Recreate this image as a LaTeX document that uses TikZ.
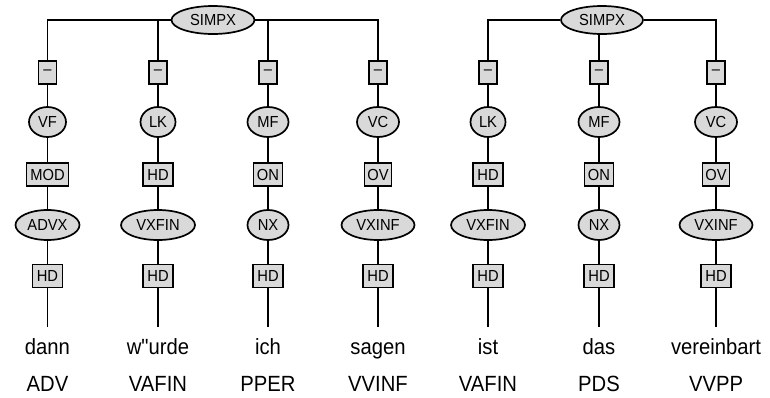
\documentclass[tikz,border=0pt]{standalone}
\usepackage{fontspec}
\setmainfont[FakeStretch=0.92,Ligatures=TeXOff]{Liberation Sans}
\usetikzlibrary{shapes.geometric}
\definecolor{nodefill}{RGB}{217,217,217}
\tikzset{
  edge/.style={draw=black,line width=1.7pt},
  ell/.style={ellipse,draw=black,line width=1.7pt,fill=nodefill,inner sep=0pt,minimum height=30pt,font=\fontsize{16}{16}\selectfont},
  lab/.style={rectangle,draw=black,line width=1.7pt,fill=nodefill,inner sep=0pt,minimum height=23pt,font=\fontsize{16}{16}\selectfont},
  wordlab/.style={anchor=base,inner xsep=0pt,inner ysep=11pt,text height=16pt,text depth=5pt,font=\fontsize{22}{22}\selectfont},
  postag/.style={anchor=base,inner sep=0pt,font=\fontsize{22}{22}\selectfont}
}
\begin{document}
\begin{tikzpicture}[x=1pt,y=-1pt]
\useasboundingbox (0,0) rectangle (770,397);
% roots
\node[ell,minimum width=83pt,minimum height=28pt] (s1) at (213,20) {SIMPX};
\node[ell,minimum width=82pt,minimum height=28pt] (s2) at (602,20) {SIMPX};
% columns
\foreach \i/\x/\ea/\wa/\lb/\wb/\ec/\wc/\w/\p in {
  1/47.5/VF/37/MOD/42/ADVX/64/dann/ADV,
  2/158/LK/35/HD/30/VXFIN/74/w"urde/VAFIN,
  3/268/MF/41/ON/29/NX/41/ich/PPER,
  4/378/VC/42/OV/27/VXINF/73/sagen/VVINF,
  5/488/LK/35/HD/30/VXFIN/74/ist/VAFIN,
  6/599/MF/41/ON/29/NX/41/das/PDS,
  7/716/VC/42/OV/27/VXINF/73/vereinbart/VVPP}{
  \node[lab,minimum width=18pt] (d\i) at (\x,72.5) {\textendash};
  \node[ell,minimum width=\wa pt] (a\i) at (\x,122) {\ea};
  \node[lab,minimum width=\wb pt] (b\i) at (\x,174.5) {\lb};
  \node[ell,minimum width=\wc pt] (c\i) at (\x,225) {\ec};
  \node[lab,minimum width=30pt] (h\i) at (\x,276) {HD};
  \node[wordlab] (w\i) at (\x,354) {\w};
  \node[postag] (p\i) at (\x,391.5) {\p};
  \draw[edge] (d\i) -- (a\i) -- (b\i) -- (c\i) -- (h\i) -- (w\i);
}
% root connections
\draw[edge] (s1.west) -| (d1);
\draw[edge] (s1.west) -| (d2);
\draw[edge] (s1.east) -| (d3);
\draw[edge] (s1.east) -| (d4);
\draw[edge] (s2.west) -| (d5);
\draw[edge] (s2.south -| d6) -- (d6);
\draw[edge] (s2.east) -| (d7);
\end{tikzpicture}
\end{document}
